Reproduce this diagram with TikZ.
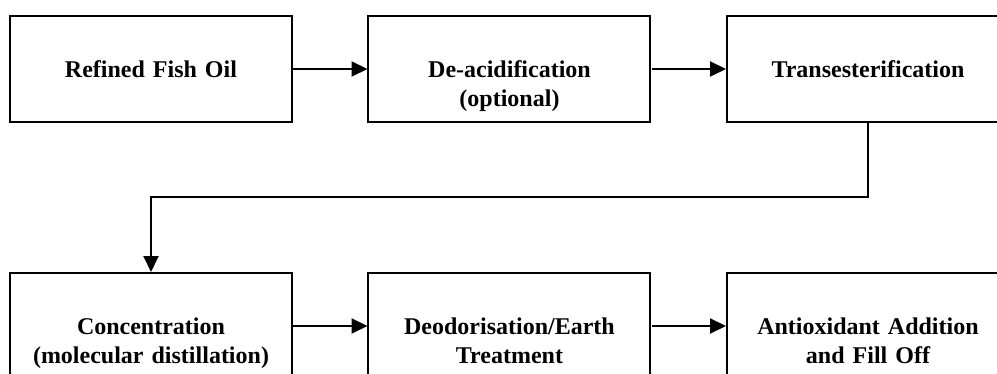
\documentclass[tikz,border=0pt]{standalone}
\usepackage{fontspec}
\setmainfont{Liberation Serif}
\usetikzlibrary{%
  arrows.meta,% Triangle tips
  matrix,%
  positioning%
}

\begin{document}
\begin{tikzpicture}
    [   >={Triangle[length=8pt,width=7.5pt]}
    ,   line width=1pt
    ,   stage/.style=
            {   % The shape:
                rectangle
            ,   draw=black
            ,   inner sep=0pt
            ,   text width=141pt
            ,   text height=30.5pt
            ,   text depth=22.5pt
            ,   align=center
            ,   % The rest
                font=\fontsize{12pt}{14.5pt}\selectfont\bfseries
            }
    ]
    \useasboundingbox (0pt,0pt) rectangle (498.5pt,-187pt);
    \clip (0pt,0pt) rectangle (498.5pt,-187pt);

    \matrix[column sep=37.25pt, row sep=74.5pt, anchor=north west, inner sep=0pt] at (4pt,-7pt) {
        \node[stage](F){Refined Fish Oil};                 & \node[stage](D){De-acidification\\(optional)};    & \node[stage](T){Transesterification};            \\
        \node[stage](C){Concentration\\(molecular distillation)}; & \node[stage](E){Deodorisation/Earth\\Treatment}; & \node[stage](A){Antioxidant Addition\\and Fill Off}; \\
    };
    \draw[->](F)--(D);
    \draw[->](D)--(T);
    \draw[->](T.south)--++(0,-37pt)-|(C.north);
    \draw[->](C)--(E);
    \draw[->](E)--(A);
\end{tikzpicture}
\end{document}
